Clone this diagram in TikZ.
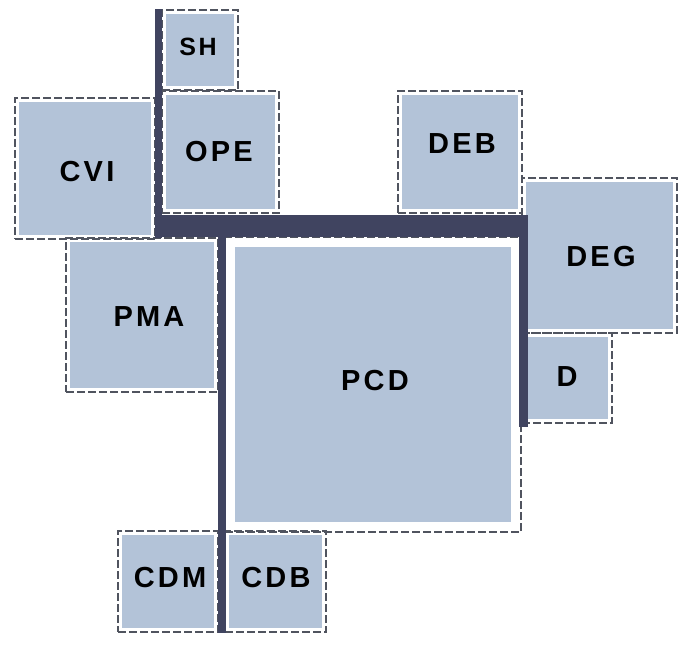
\documentclass[tikz,border=0pt]{standalone}
\usepackage{fontspec}
\newfontfamily\labfont{Liberation Sans}[LetterSpace=11]
\definecolor{boxfill}{HTML}{B3C3D8}
\definecolor{barc}{HTML}{404460}
\definecolor{dashc}{HTML}{50545F}
\begin{document}
\begin{tikzpicture}[x=1pt,y=-1pt,
  box/.style={rectangle, inner sep=0pt, draw=dashc, line width=1.3pt,
    dash pattern=on 8pt off 3pt,
    path picture={\fill[boxfill] ([shift={(#1,#1)}]path picture bounding box.south west) rectangle ([shift={(-#1,-#1)}]path picture bounding box.north east);}},
  box/.default=4pt,
  lab/.style={inner sep=0pt, text=black, font=\labfont\bfseries\fontsize{29pt}{29pt}\selectfont},
  bar/.style={fill=barc}]
\useasboundingbox (0,0) rectangle (693,653);
% boxes
\node[box, minimum width=76pt, minimum height=80pt] (SH) at (200,50) {};
\node[box, minimum width=117pt, minimum height=122pt] (OPE) at (220.5,152) {};
\node[box, minimum width=140pt, minimum height=141pt] (CVI) at (85,168.5) {};
\node[box, minimum width=124pt, minimum height=122pt] (DEB) at (460,152) {};
\node[box, minimum width=155pt, minimum height=155pt] (DEG) at (599.5,255.5) {};
\node[box, minimum width=90pt, minimum height=90pt] (D) at (567,378) {};
\node[box, minimum width=152pt, minimum height=154pt] (PMA) at (142,315) {};
\node[box=10pt, minimum width=296pt, minimum height=295pt] (PCD) at (373,384.5) {};
\node[box, minimum width=100pt, minimum height=101pt] (CDM) at (168,581.5) {};
\node[box, minimum width=101pt, minimum height=101pt] (CDB) at (275.5,581.5) {};
% labels
\node[lab, font=\labfont\bfseries\fontsize{25pt}{25pt}\selectfont] (tSH) at (198,47) {SH};
\node[lab] (tOPE) at (219,152) {OPE};
\node[lab] (tCVI) at (87,172) {CVI};
\node[lab] (tDEB) at (462,144) {DEB};
\node[lab] (tDEG) at (601,257) {DEG};
\node[lab] (tD) at (567,377) {D};
\node[lab] (tPMA) at (149,317) {PMA};
\node[lab] (tPCD) at (375,381) {PCD};
\node[lab] (tCDM) at (170,578) {CDM};
\node[lab] (tCDB) at (276,578) {CDB};
% bars
\fill[bar] (155,9) rectangle (162,238);
\fill[bar] (155,215) rectangle (528,237);
\fill[bar] (519,215) rectangle (528,427);
\fill[bar] (218,237) rectangle (226,633);
\end{tikzpicture}
\end{document}
